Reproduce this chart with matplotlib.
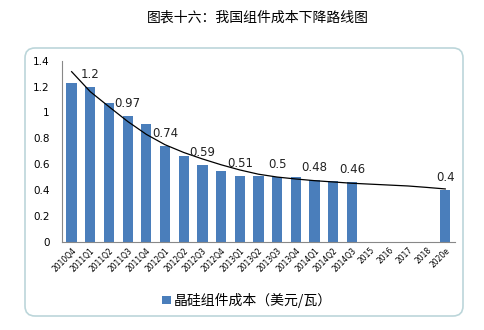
import matplotlib.pyplot as plt
from matplotlib.patches import FancyBboxPatch
import numpy as np

plt.rcParams['font.family'] = ['DejaVu Sans']
cjk = ['Noto Sans CJK SC', 'DejaVu Sans']

categories = ["2010Q4", "2011Q1", "2011Q2", "2011Q3", "2011Q4", "2012Q1", "2012Q2",
              "2012Q3", "2012Q4", "2013Q1", "2013Q2", "2013Q3", "2013Q4", "2014Q1",
              "2014Q2", "2014Q3", "2015", "2016", "2017", "2018", "2020e"]
cost = [1.23, 1.2, 1.07, 0.97, 0.91, 0.74, 0.66, 0.59, 0.55, 0.51, 0.51, 0.5,
        0.5, 0.48, 0.47, 0.46, np.nan, np.nan, np.nan, np.nan, 0.4]
# labels shown only on every other bar
labelled = ["2011Q1", "2011Q3", "2012Q1", "2012Q3", "2013Q1", "2013Q3", "2014Q1",
            "2014Q3", "2020e"]
# trend line
trend = [1.315, 1.16, 1.044, 0.93, 0.83, 0.75, 0.69, 0.64, 0.595, 0.555, 0.522,
         0.5, 0.485, 0.472, 0.462, 0.452, 0.445, 0.438, 0.431, 0.42, 0.408]

fig = plt.figure(figsize=(4.84, 3.30), dpi=100)
fig.patch.set_facecolor('white')

# rounded chart frame
frame = FancyBboxPatch((0.25, 0.14), 4.38, 2.68, boxstyle="round,pad=0,rounding_size=0.1",
                       transform=fig.dpi_scale_trans, facecolor='white',
                       edgecolor='#bcd6da', linewidth=1.2, zorder=0)
fig.patches.append(frame)

fig.text(0.533, 0.948, "图表十六：我国组件成本下降路线图", ha='center', va='center',
         fontsize=10, family=cjk)

ax = fig.add_axes([0.1287, 0.2676, 0.8106, 0.5485])
ax.set_zorder(2)
ax.set_facecolor('none')
x = np.arange(len(categories))
bars = ax.bar(x, cost, width=0.55, color='#4a7ebb', zorder=2,
              label="晶硅组件成本（美元/瓦）")
ax.plot(x, trend, color='black', linewidth=0.9, zorder=3)

for i, c in enumerate(categories):
    if c in labelled:
        v = cost[i]
        ax.annotate(f"{v:g}", (i, v), xytext=(0, 9), textcoords='offset points',
                    ha='center', va='center', fontsize=8.5, color='#222222', zorder=4)

ax.set_xlim(-0.5, len(categories) - 0.5)
ax.set_ylim(0, 1.4)
ax.set_yticks(np.arange(0, 1.41, 0.2))
ax.set_yticklabels(["0", "0.2", "0.4", "0.6", "0.8", "1", "1.2", "1.4"])
ax.set_xticks(x)
ax.set_xticklabels(categories, rotation=45, ha='right', rotation_mode='anchor', fontsize=5.5)
ax.tick_params(axis='y', length=0, labelsize=7.5, pad=9)
ax.tick_params(axis='x', length=0, pad=3)
for s in ['top', 'right']:
    ax.spines[s].set_visible(False)
for s in ['left', 'bottom']:
    ax.spines[s].set_color('#888888')
    ax.spines[s].set_linewidth(0.8)

leg = fig.legend(handles=[bars], loc='center', bbox_to_anchor=(0.51, 0.09), frameon=False,
                 prop={'family': cjk, 'size': 10}, handlelength=0.6, handleheight=0.6,
                 handletextpad=0.2)
leg.set_zorder(3)

fig.savefig("out.png", dpi=100)
